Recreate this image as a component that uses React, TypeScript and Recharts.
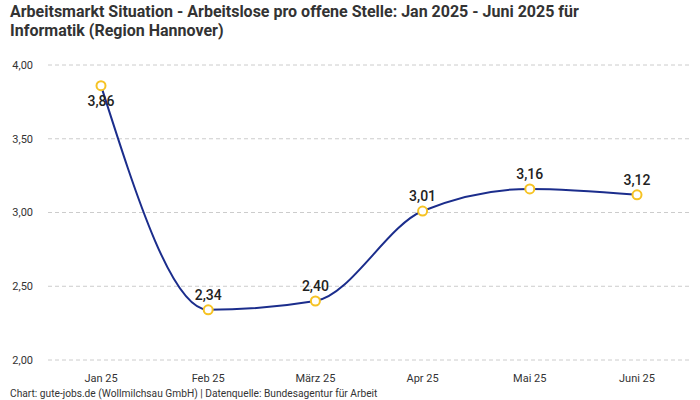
import React from "react";
import { LineChart, Line, XAxis, YAxis, CartesianGrid, LabelList } from "recharts";

const months = ["Jan 25", "Feb 25", "März 25", "Apr 25", "Mai 25", "Juni 25"];
const values = [3.86, 2.34, 2.4, 3.01, 3.16, 3.12];
const yTicks = [2, 2.5, 3, 3.5, 4];

const titleLines = [
  "Arbeitsmarkt Situation - Arbeitslose pro offene Stelle: Jan 2025 - Juni 2025 für",
  "Informatik (Region Hannover)",
];
const footerText = "Chart: gute-jobs.de (Wollmilchsau GmbH) | Datenquelle: Bundesagentur für Arbeit";

const data = months.map((m, i) => ({ month: m, value: values[i] }));

const fmt = (v: number) => v.toFixed(2).replace(".", ",");

const renderLabel = (props: any) => {
  const { x, y, value, index } = props;
  const below = index === 0;
  return (
    <text
      x={x}
      y={below ? y + 20 : y - 10}
      textAnchor="middle"
      fontSize={14}
      fontWeight={500}
      fill="#222"
      fontFamily="Roboto, sans-serif"
    >
      {fmt(value)}
    </text>
  );
};

export default function App() {
  return (
    <div style={{ position: "absolute", left: 0, top: 0, width: 700, height: 400, background: "#fff", fontFamily: "Roboto, sans-serif" }}>
      <LineChart width={700} height={400} data={data} margin={{ top: 65, right: 10, bottom: 10, left: 0 }}>
        <CartesianGrid vertical={false} stroke="#ccc" strokeDasharray="4 3" />
        <XAxis
          dataKey="month"
          axisLine={false}
          tickLine={false}
          tick={{ fontSize: 11, fill: "#333" }}
          height={30}
          tickMargin={8}
          padding={{ left: 53, right: 53 }}
        />
        <YAxis
          domain={[2, 4]}
          ticks={yTicks}
          tickFormatter={fmt}
          axisLine={false}
          tickLine={false}
          width={48}
          tick={{ fontSize: 11, fill: "#333" }}
          tickMargin={9}
        />
        <Line
          type="monotone"
          dataKey="value"
          stroke="#1b2d8c"
          strokeWidth={2}
          dot={{ r: 4.5, fill: "#fff", stroke: "#f6c324", strokeWidth: 2 }}
          activeDot={false}
          isAnimationActive={false}
        >
          <LabelList dataKey="value" content={renderLabel} />
        </Line>
      </LineChart>
      <svg width={700} height={400} style={{ position: "absolute", left: 0, top: 0, zIndex: 2, pointerEvents: "none" }}>
        <text x={10} y={17} fontSize={16} fontWeight={700} fill="#333" fontFamily="Roboto, sans-serif">
          {titleLines[0]}
        </text>
        <text x={10} y={36} fontSize={16} fontWeight={700} fill="#333" fontFamily="Roboto, sans-serif">
          {titleLines[1]}
        </text>
        <text x={10} y={397} fontSize={10.2} fill="#333" fontFamily="Roboto, sans-serif">
          {footerText}
        </text>
      </svg>
    </div>
  );
}
